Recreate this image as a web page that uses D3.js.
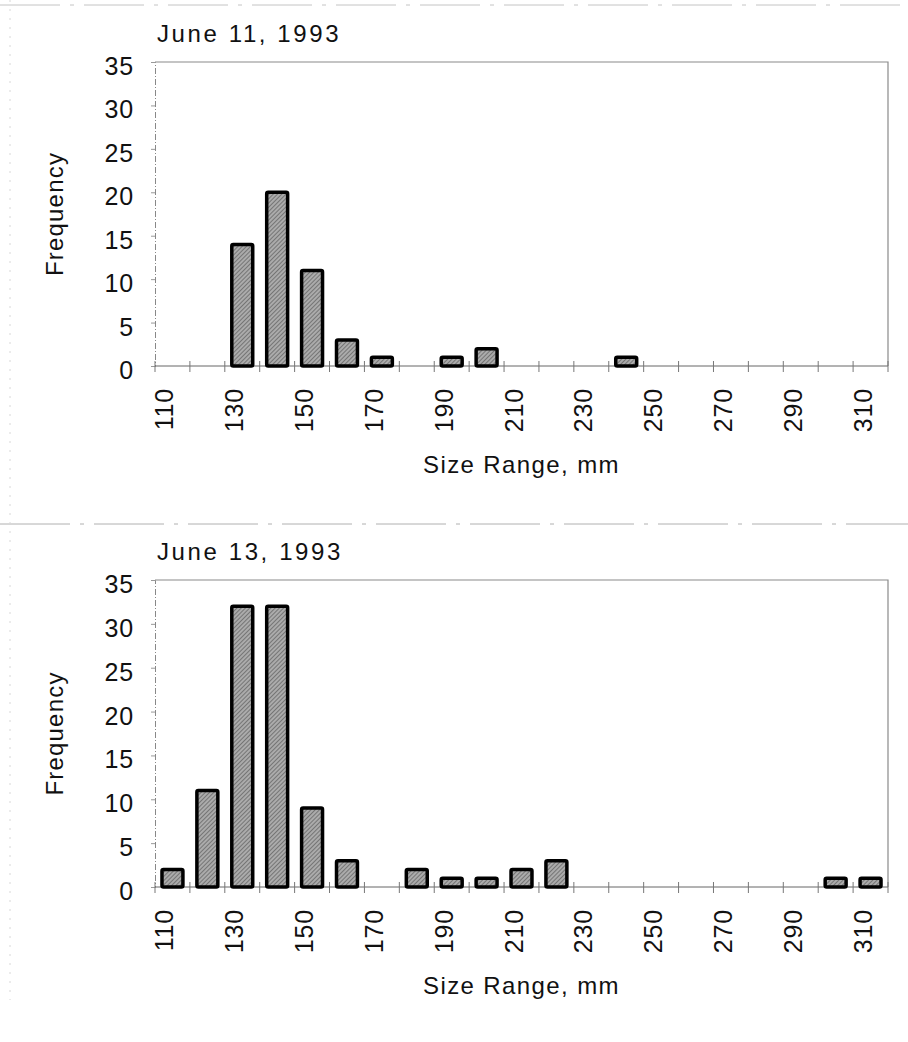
<!DOCTYPE html>
<html>
<head>
<meta charset="utf-8">
<script src="https://cdn.jsdelivr.net/npm/d3@7"></script>
<style>
  body { margin: 0; background: #fff; }
  svg text { font-family: "Liberation Sans", Arial, sans-serif; fill: #111; }
</style>
</head>
<body>
<div id="chart"></div>
<script>
// size classes, mm
var sizes = [110, 120, 130, 140, 150, 160, 170, 180, 190, 200, 210, 220, 230, 240, 250, 260, 270, 280, 290, 300, 310];
var sizeLabels = ["110", "130", "150", "170", "190", "210", "230", "250", "270", "290", "310"];
var freqTicks = [0, 5, 10, 15, 20, 25, 30, 35];

var june11 = [0, 0, 14, 20, 11, 3, 1, 0, 1, 2, 0, 0, 0, 1, 0, 0, 0, 0, 0, 0, 0];
var june13 = [2, 11, 32, 32, 9, 3, 0, 2, 1, 1, 2, 3, 0, 0, 0, 0, 0, 0, 0, 1, 1];

var titles = ["June 11, 1993", "June 13, 1993"];

var w = 908, h = 1042;

var svg = d3.select("#chart").append("svg")
	.attr("width", w)
	.attr("height", h)

// hatched gray fill like the scanned bars
var defs = svg.append("defs");
var pat = defs.append("pattern")
	.attr("id", "hatch")
	.attr("patternUnits", "userSpaceOnUse")
	.attr("width", 3)
	.attr("height", 3)
	.attr("patternTransform", "rotate(45)")
pat.append("rect").attr("width", 3).attr("height", 3).style("fill", "#ababab")
pat.append("line").attr("x1", 0).attr("y1", 0).attr("x2", 0).attr("y2", 3)
	.style("stroke", "#505050").style("stroke-width", 1.2)

// faint page frame lines from the scan
svg.append("line").attr("x1", 0).attr("x2", w).attr("y1", 5).attr("y2", 5)
	.style("stroke", "#c4c4c4").style("stroke-dasharray", "60,10,4,10")
svg.append("line").attr("x1", 0).attr("x2", w).attr("y1", 524).attr("y2", 524)
	.style("stroke", "#b0b0b0").style("stroke-dasharray", "70,10,4,10")
svg.append("line").attr("x1", 10).attr("x2", 10).attr("y1", 0).attr("y2", 1000)
	.style("stroke", "#d8d8d8").style("stroke-dasharray", "2,7")

makePanel(june11, titles[0], 62, 366);
makePanel(june13, titles[1], 580, 887);

function makePanel(data, title, top, bottom) {
	var left = 155, right = 888;

	var x = d3.scaleBand()
		.domain(sizes)
		.range([left, right])
		.paddingInner(0.4)
		.paddingOuter(0.2)

	var y = d3.scaleLinear()
		.domain([0, 35])
		.range([bottom, top])

	var g = svg.append("g");

	// frame: top and right
	g.append("path")
		.attr("d", "M" + left + "," + top + "H" + right + "V" + bottom)
		.style("fill", "none")
		.style("stroke", "#8a8a8a")
		.style("stroke-width", 1.2)

	// y axis
	var yAxis = d3.axisLeft(y).tickValues(freqTicks).tickSize(4).tickPadding(17);
	var ya = g.append("g")
		.attr("transform", "translate(" + left + ",0)")
		.call(yAxis)
	ya.select(".domain").style("stroke", "#888").style("stroke-dasharray", "6,2,1,2")
	ya.selectAll(".tick line").style("stroke", "#999")
	ya.selectAll(".tick text")
		.style("font-size", "25px")
		.style("letter-spacing", "0.8px")
		.attr("dy", "0.5em")
		.style("fill", "#111")

	// x baseline with cross ticks at class boundaries
	g.append("line")
		.attr("x1", left).attr("x2", right)
		.attr("y1", y(0)).attr("y2", y(0))
		.style("stroke", "#666")
		.style("stroke-width", 1)

	var bounds = sizes.map(function(d) { return x(d) - x.step() * x.paddingInner() / 2; });
	bounds.push(right);
	g.selectAll(".xtick")
		.data(bounds)
		.enter()
		.append("line")
		.attr("class", "xtick")
		.attr("x1", function(d) { return d; })
		.attr("x2", function(d) { return d; })
		.attr("y1", y(0) - 5)
		.attr("y2", y(0) + 6)
		.style("stroke", "#777")

	// bars
	var rows = sizes.map(function(s, i) { return {size: s, n: data[i]}; })
		.filter(function(d) { return d.n > 0; });

	g.selectAll(".bar")
		.data(rows)
		.enter()
		.append("rect")
		.attr("class", "bar")
		.attr("x", function(d) { return x(d.size); })
		.attr("width", x.bandwidth())
		.attr("y", function(d) { return y(d.n); })
		.attr("height", function(d) { return y(0) - y(d.n); })
		.attr("rx", 1.5)
		.style("fill", "url(#hatch)")
		.style("stroke", "#000")
		.style("stroke-width", 3.5)

	// rotated size labels
	g.selectAll(".xlab")
		.data(sizeLabels)
		.enter()
		.append("text")
		.attr("class", "xlab")
		.text(function(d) { return d; })
		.attr("transform", function(d) {
			return "translate(" + (x(+d) + x.bandwidth() / 2 + 1) + "," + (y(0) + 22) + ") rotate(-90)";
		})
		.style("text-anchor", "end")
		.style("font-size", "25px")
		.style("letter-spacing", "0.8px")

	// titles
	g.append("text")
		.text(title)
		.attr("x", 157)
		.attr("y", top - 20)
		.style("font-size", "24px")
		.style("letter-spacing", "2.6px")

	g.append("text")
		.text("Frequency")
		.attr("transform", "translate(63," + ((top + bottom) / 2) + ") rotate(-90)")
		.style("text-anchor", "middle")
		.style("font-size", "24px")
		.style("letter-spacing", "1.2px")

	g.append("text")
		.text("Size Range, mm")
		.attr("x", (left + right) / 2)
		.attr("y", bottom + 107)
		.style("text-anchor", "middle")
		.style("font-size", "24px")
		.style("letter-spacing", "1.4px")
}
</script>
</body>
</html>
